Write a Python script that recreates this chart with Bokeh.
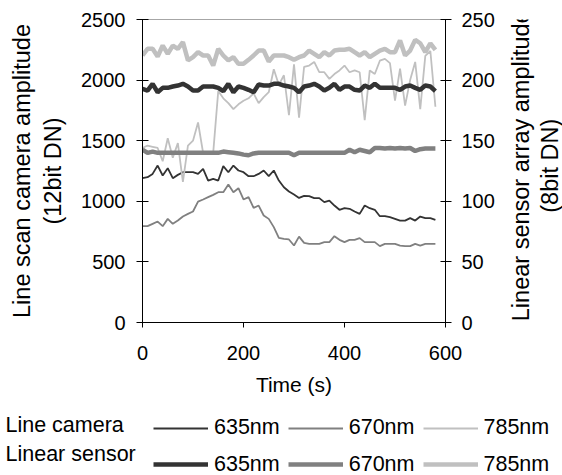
import math
from bokeh.plotting import figure
from bokeh.layouts import column, row
from bokeh.models import Range1d, LinearAxis, Legend, LegendItem, Label, FixedTicker
from bokeh.embed import file_html
from bokeh.resources import INLINE

# ---------------- data ----------------
time_s = [0, 10, 20, 30, 40, 50, 60, 70, 80, 90, 100, 110, 120, 130, 140, 150, 160, 170, 180, 190,
          200, 210, 220, 230, 240, 250, 260, 270, 280, 290, 300, 310, 320, 330, 340, 350, 360, 370, 380, 390,
          400, 410, 420, 430, 440, 450, 460, 470, 480, 490, 500, 510, 520, 530, 540, 550, 560, 570, 580]

# line scan camera (12bit DN, left axis)
cam_635 = [1191, 1199, 1226, 1295, 1213, 1273, 1191, 1218, 1240, 1240, 1240, 1226, 1268, 1171, 1185, 1171,
           1290, 1240, 1295, 1254, 1240, 1207, 1207, 1226, 1254, 1207, 1254, 1171, 1116, 1081, 1056, 1028,
           1045, 1042, 1026, 1026, 993, 1006, 965, 930, 943, 938, 916, 896, 965, 943, 930, 877, 877, 869,
           855, 841, 841, 861, 841, 874, 861, 861, 847]
cam_670 = [795, 795, 814, 833, 795, 855, 814, 841, 875, 896, 916, 998, 1015, 1034, 1053, 1075, 1075, 1138,
           1075, 1108, 1015, 1034, 946, 965, 883, 855, 787, 699, 690, 685, 635, 709, 657, 649, 649, 649,
           663, 663, 712, 682, 663, 682, 682, 696, 663, 663, 663, 630, 649, 649, 649, 635, 630, 630, 649,
           635, 649, 649, 649]
cam_785 = [1440, 1460, 1450, 1440, 1330, 1520, 1360, 1480, 1160, 1460, 1500, 1650, 1400, 1400, 1400, 1910,
           1850, 1810, 1760, 1800, 1830, 1850, 1890, 1810, 1860, 1900, 2090, 1960, 2040, 1710, 2130, 1690,
           2110, 2120, 2150, 2065, 2065, 2010, 2050, 2080, 2120, 2065, 2080, 2065, 1670, 2080, 2050, 2160,
           2175, 2140, 1830, 2095, 1790, 2000, 2150, 1760, 2200, 2240, 1780]

# linear sensor array (8bit DN, right axis)
lin_635 = [192.8, 191.4, 196.9, 190.0, 193.6, 193.6, 194.7, 195.5, 196.9, 194.7, 191.4, 191.4, 194.7, 194.7,
           194.7, 193.6, 190.9, 196.9, 190.0, 194.7, 193.6, 192.0, 190.0, 196.3, 195.5, 195.5, 196.9, 196.9,
           195.5, 194.7, 193.6, 190.0, 194.7, 195.5, 196.9, 194.7, 191.4, 193.6, 196.9, 192.0, 194.7, 194.7,
           192.0, 191.4, 195.5, 193.6, 196.9, 193.6, 193.6, 193.6, 193.6, 192.0, 194.7, 195.5, 193.6, 192.0,
           195.5, 194.7, 190.9]
lin_670 = [142.5, 140, 141, 140, 140, 140, 140, 140, 140, 140, 140, 140, 140, 140, 140, 140,
           141, 140.5, 140, 139.5, 138.5, 138, 139.5, 140, 140, 140, 140, 140, 140, 140, 138,
           140, 140, 140, 140, 140, 140, 140, 140, 140, 140, 142.5, 140.5, 142.5, 141.5, 140.5, 144,
           144, 143.5, 144, 143.5, 144, 143.5, 144, 141.5, 143, 143.5, 143.5, 143.5]
lin_785 = [220.3, 225.8, 225.8, 219.4, 228.5, 221.7, 228.5, 225.8, 231.3, 216.2, 218.9, 223.0, 220.3, 220.3,
           212.0, 225.8, 220.3, 216.2, 218.9, 213.4, 213.4, 216.7, 220.3, 224.4, 224.4, 215.3, 220.3, 220.3,
           220.3, 218.9, 216.7, 218.9, 220.3, 224.4, 221.7, 218.9, 223.0, 220.3, 224.4, 225.0, 225.0, 225.8,
           223.0, 220.3, 223.0, 218.9, 221.7, 224.4, 225.8, 223.0, 223.0, 232.7, 220.3, 224.4, 233.2, 230.4,
           223.0, 230.4, 225.0]

x_ticks = [0, 200, 400, 600]
left_ticks = [0, 500, 1000, 1500, 2000, 2500]
right_ticks = [0, 50, 100, 150, 200, 250]
wavelengths = ["635nm", "670nm", "785nm"]
row_titles = ["Line camera", "Linear sensor"]
x_title = "Time (s)"
left_title = "Line scan camera amplitude\n(12bit DN)"
right_title_lines = ["Linear sensor array amplitude", "(8bit DN)"]

# ---------------- style / layout ----------------
FONT = "Liberation Sans"
colors = ["#333333", "#808080", "#c0c0c0"]
W, H = 562, 475
FL, FW, FT, FH = 142, 303, 19, 303
MR = 52                  # right border of main plot (tick labels)
WM = FL + FW + MR        # main plot width
HM = 405                 # main plot height
WT = W - WM              # right-title strip width
HL = H - HM              # legend strip height
THIN, THICK = 1.8, 4.5


def blank(width, height):
    f = figure(width=width, height=height, output_backend="svg", toolbar_location=None,
               x_range=Range1d(0, width), y_range=Range1d(0, height),
               min_border=0, min_border_left=0, min_border_right=0,
               min_border_top=0, min_border_bottom=0)
    f.axis.visible = False
    f.grid.visible = False
    f.outline_line_color = None
    f.background_fill_color = "white"
    f.border_fill_color = "white"
    return f


p = figure(width=WM, height=HM, output_backend="svg", toolbar_location=None,
           x_range=Range1d(0, 600), y_range=Range1d(0, 2500),
           min_border_left=FL, min_border_right=MR,
           min_border_top=FT, min_border_bottom=HM - FT - FH)
p.extra_y_ranges = {"right": Range1d(0, 250)}
p.grid.visible = False
p.outline_line_color = "#a6a6a6"
p.background_fill_color = "white"
p.border_fill_color = "white"

right_axis = LinearAxis(y_range_name="right")
p.add_layout(right_axis, "right")

xa = p.xaxis[0]
ya = p.yaxis[0]
for ax in (xa, ya, right_axis):
    ax.axis_line_color = "black"
    ax.axis_line_width = 1
    ax.major_tick_line_color = "black"
    ax.minor_tick_line_color = None
    ax.major_label_text_font = FONT
    ax.major_label_text_font_size = "20px"
    ax.major_label_text_color = "black"
    ax.axis_label_text_font = FONT
    ax.axis_label_text_font_style = "normal"
    ax.axis_label_text_color = "black"

xa.ticker = FixedTicker(ticks=x_ticks)
xa.major_tick_in = 0
xa.major_tick_out = 5
xa.major_label_standoff = 18
xa.axis_label = x_title
xa.axis_label_text_font_size = "21px"
xa.axis_label_standoff = 10

ya.ticker = FixedTicker(ticks=left_ticks)
ya.major_tick_in = 6
ya.major_tick_out = 6
ya.major_label_standoff = 11
ya.axis_label = left_title
ya.axis_label_text_font_size = "23.5px"
ya.axis_label_standoff = 12

right_axis.ticker = FixedTicker(ticks=right_ticks)
right_axis.major_tick_in = 5
right_axis.major_tick_out = 6
right_axis.major_label_standoff = 10

cam_series = [cam_635, cam_670, cam_785]
lin_series = [lin_635, lin_670, lin_785]
cam_r = [p.line(time_s, s, line_color=c, line_width=THIN) for s, c in zip(cam_series, colors)]
lin_r = [p.line(time_s, s, line_color=c, line_width=THICK, y_range_name="right")
         for s, c in zip(lin_series, colors)]

# ---- right axis title strip ----
rt = blank(WT, HM)
yc = HM - (FT + FH / 2) - 25
for i, t in enumerate(right_title_lines):
    rt.add_layout(Label(x=23 + 29 * i, y=yc, text=t, angle=math.pi / 2,
                        text_font=FONT, text_font_size="23.5px", text_color="black",
                        text_align="center", text_baseline="middle"))

# ---- legend strip (same series; they fall outside this strip's ranges, only the legend shows) ----
lg = blank(W, HL)
leg_cam = [lg.line(time_s, s, line_color=c, line_width=THIN) for s, c in zip(cam_series, colors)]
leg_lin = [lg.line(time_s, s, line_color=c, line_width=THICK) for s, c in zip(lin_series, colors)]


def make_legend(renderers, loc):
    return Legend(items=[LegendItem(label=w, renderers=[r]) for w, r in zip(wavelengths, renderers)],
                  orientation="horizontal", location=loc,
                  padding=0, margin=0, spacing=8, glyph_width=55, glyph_height=26,
                  label_standoff=6, label_height=26,
                  label_text_font=FONT, label_text_font_size="21.5px", label_text_color="black",
                  border_line_color=None, background_fill_alpha=0)


lg.add_layout(make_legend(leg_cam, (153, 47.5 - 13)))
lg.add_layout(make_legend(leg_lin, (153, 11 - 13)))
for t, yy in zip(row_titles, [50.3, 22]):
    lg.add_layout(Label(x=5, y=yy, text=t,
                        text_font=FONT, text_font_size="21.5px", text_color="black",
                        text_baseline="middle", text_align="left"))

layout = column(row(p, rt, spacing=0), lg, spacing=0)
open("out.html", "w").write(file_html(layout, INLINE))
